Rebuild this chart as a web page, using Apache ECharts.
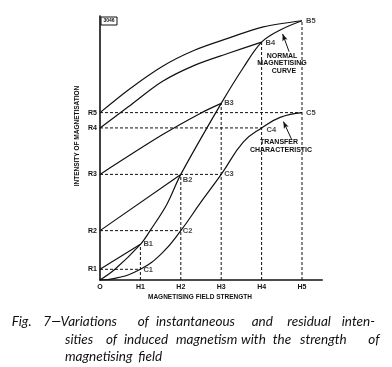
<!DOCTYPE html>
<html><head><meta charset="utf-8">
<script src="https://cdn.jsdelivr.net/npm/echarts@6/dist/echarts.min.js"></script>
<style>html,body{margin:0;padding:0;background:#fff}#c{width:392px;height:367px}</style>
</head><body><div id="c"></div>
<script>
// ---- data (H in field units, intensity 0..100) ----
const hValues = [1, 2, 3, 4, 5];
const hLabels = ['O', 'H1', 'H2', 'H3', 'H4', 'H5'];
const rValues = [4.05, 18.7, 40, 57.6, 63.4];
const rLabels = ['R1', 'R2', 'R3', 'R4', 'R5'];
const bValues = [13.5, 40, 66.9, 90.1, 98.2];
const bLabels = ['B1', 'B2', 'B3', 'B4', 'B5'];
const cLabels = ['C1', 'C2', 'C3', 'C4', 'C5'];
const normalCurve = [[0,0],[0.37,4.05],[1,13.5],[1.24,18.7],[1.65,28.5],[2,40],[3,66.9],[3.55,80.5],[4,90.1],[4.46,94.7],[5,98.2]];
const transferCurve = [[0,0],[0.37,0.6],[1,4.05],[1.53,10.1],[2,18.7],[2.48,29.1],[3,40],[3.55,52.3],[4,57.6],[4.46,61.6],[5,63.4]];
const recoil1 = [[0,4.05],[1,13.5]];
const recoil2 = [[0,18.7],[2,40]];
const recoil3 = [[0,40],[1.53,54.9],[2.48,63.1],[3,66.9]];
const recoil4 = [[0,57.6],[0.7,65.6],[1.53,75.1],[2.35,81.4],[3.18,85.9],[4,90.1]];
const recoil5 = [[0,63.4],[0.7,72],[1.53,80.8],[2.35,87.1],[3.18,91.6],[4.04,95.9],[5,98.2]];
const normalArrow = [[4.68,86.5],[4.52,93.2]];
const transferArrow = [[4.75,53],[4.54,60]];

const FONT = 'Liberation Sans';
const chart = echarts.init(document.getElementById('c'), null, {renderer:'canvas'});
const solid = {color:'#111', width:1.2};
const dashed = {color:'#111', width:1, type:[3,2]};

const series = [];
function curve(data, smooth){
  series.push({type:'line', data, smooth, symbol:'none', lineStyle:solid, silent:true, z:3});
}
curve(normalCurve, 0.35);
curve(transferCurve, 0.45);
curve(recoil1, false);
curve(recoil2, false);
curve(recoil3, 0.3);
curve(recoil4, 0.3);
curve(recoil5, 0.3);
hValues.forEach((h,i)=>{
  series.push({type:'line', data:[[0,rValues[i]],[h,rValues[i]]], symbol:'none', lineStyle:dashed, silent:true, z:2});
  series.push({type:'line', data:[[h,0],[h,bValues[i]]], symbol:'none', lineStyle:dashed, silent:true, z:2});
});
// point labels
const bOff = [[3,0],[2,6],[3,0],[4,1],[4,0]];
const cOff = [[3,1],[2,0],[3,0],[5,2],[4,0]];
const lbl = {show:true, position:'right', fontFamily:FONT, fontWeight:'bold', fontSize:7.5, color:'#111'};
series.push({type:'scatter', symbolSize:0, silent:true, z:5,
  data: hValues.map((h,i)=>({value:[h,bValues[i]], name:bLabels[i], label:Object.assign({}, lbl, {offset:bOff[i], distance:0, formatter:bLabels[i]})}))
    .concat(hValues.map((h,i)=>({value:[h,rValues[i]], name:cLabels[i], label:Object.assign({}, lbl, {offset:cOff[i], distance:0, formatter:cLabels[i]})})))
});
// arrows
series.push({type:'line', data:[], silent:true,
  markLine:{silent:true, symbol:['none','arrow'], symbolSize:[4,7], lineStyle:{color:'#111', width:1, type:'solid'}, label:{show:false},
    data:[[{coord:normalArrow[0]},{coord:normalArrow[1]}],[{coord:transferArrow[0]},{coord:transferArrow[1]}]]}});

const txt = (x,y,t,extra)=>Object.assign({type:'text', x, y, style:Object.assign({text:t, fontFamily:FONT, fontWeight:'bold', fontSize:7, fill:'#111', align:'center', verticalAlign:'middle'}, extra||{})});
const capStyle = {fontFamily:'Lato', fontStyle:'italic', fontWeight:'normal', fontSize:13.5, fill:'#111', align:'left'};
const capWords = [
  ['Fig.',11.7,322],['7—Variations',43.3,322],['of',137.7,322],['instantaneous',156,322],['and',251.7,322],['residual',287.3,322],['inten-',341.7,322],
  ['sities',65,339.5],['of',106,339.5],['induced',124,339.5],['magnetism',176,339.5],['with',241,339.5],['the',272.7,339.5],['strength',300,339.5],['of',368.3,339.5],
  ['magnetising',65,356.5],['field',138.3,356.5]
];

chart.setOption({
  backgroundColor:'#fff',
  animation:false,
  grid:{left:100, top:16, width:222.2, height:264, containLabel:false, outerBoundsMode:'none'},
  xAxis:{type:'value', min:0, max:5.5, interval:1,
    axisLine:{show:true, onZero:false, lineStyle:{color:'#111', width:1.6}},
    axisTick:{show:false}, splitLine:{show:false},
    axisLabel:{margin:4, fontFamily:FONT, fontWeight:'bold', fontSize:7, color:'#111', formatter:v=>hLabels[v] ?? ''}},
  yAxis:{type:'value', min:0, max:100,
    axisLine:{show:true, lineStyle:{color:'#111', width:1.6}},
    axisTick:{show:false}, splitLine:{show:false},
    axisLabel:{margin:3, fontFamily:FONT, fontWeight:'bold', fontSize:7, color:'#111', customValues:rValues,
      formatter:v=>{const i=rValues.indexOf(v); return i>=0?rLabels[i]:'';}}},
  series,
  graphic:[
    txt(200,297,'MAGNETISING FIELD STRENGTH',{fontSize:6.5}),
    Object.assign(txt(0,0,'INTENSITY OF MAGNETISATION',{fontSize:6.5}),{x:77,y:136,rotation:Math.PI/2}),
    txt(282,56,'NORMAL'), txt(282,63.5,'MAGNETISING'), txt(284,71,'CURVE'),
    txt(279,142.5,'TRANSFER'), txt(281,150,'CHARACTERISTIC'),
    {type:'rect', shape:{x:101,y:17,width:16,height:8}, style:{fill:'#fff', stroke:'#111', lineWidth:1}},
    txt(109,21,'3046',{fontSize:5}),
  ].concat(capWords.map(w=>({type:'text', x:w[1], y:w[2], style:Object.assign({text:w[0], verticalAlign:'middle'}, capStyle)})))
});
</script></body></html>
